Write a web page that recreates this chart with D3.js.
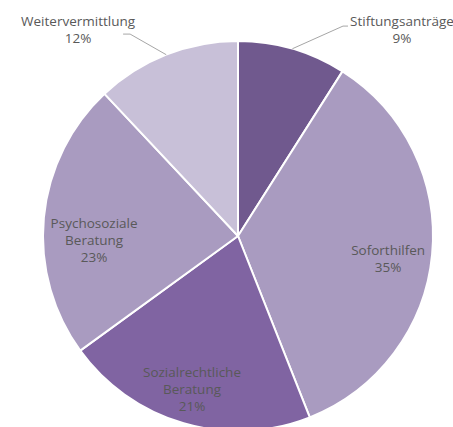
<!DOCTYPE html>
<html>
<head>
<meta charset="utf-8">
<script src="https://cdn.jsdelivr.net/npm/d3@7"></script>
<style>
  body { margin: 0; background: #fff; }
  text { font-family: "Open Sans", sans-serif; font-size: 13.5px; fill: #595959; }
</style>
</head>
<body>
<script>
// data
var categories = ["Stiftungsanträge", "Soforthilfen", "Sozialrechtliche Beratung", "Psychosoziale Beratung", "Weitervermittlung"];
var values = [9, 35, 21, 23, 12];
var colors = ["#70598e", "#a99bc0", "#8064a2", "#a99bc0", "#c8c0d8"];

var w = 453, h = 427;
var cx = 238, cy = 236, radius = 195;

/* ===== label layout (Excel "best fit" look), in units of the radius ===== */
var labelLines = [["Stiftungsanträge"], ["Soforthilfen"], ["Sozialrechtliche", "Beratung"], ["Psychosoziale", "Beratung"], ["Weitervermittlung"]];
var labelPos = [[0.841, -1.056], [0.77, 0.115], [-0.236, 0.785], [-0.738, 0.02], [-0.82, -1.056]];
// leader lines for the outside labels: elbow points relative to the label centre (px)
var leaders = { 0: [[-59, -4], [-54, -4]], 4: [[52, 4], [45, 4]] };
var lh = 17;

var svg = d3.select("body").append("svg")
    .attr("width", w)
    .attr("height", h);

var g = svg.append("g").attr("transform", "translate(" + cx + "," + cy + ")");

var pie = d3.pie().sort(null).value(function (d) { return d; });
var arc = d3.arc().innerRadius(0).outerRadius(radius);
var arcs = pie(values);
var pct = d3.format(".0%");
var total = d3.sum(values);

g.selectAll("path.slice")
    .data(arcs)
    .enter().append("path")
    .attr("class", "slice")
    .attr("d", arc)
    .attr("fill", function (d, i) { return colors[i]; })
    .attr("stroke", "#fff")
    .attr("stroke-width", 2)
    .attr("stroke-linejoin", "round");

arcs.forEach(function (d, i) {
    var mid = (d.startAngle + d.endAngle) / 2;
    var x = labelPos[i][0] * radius, y = labelPos[i][1] * radius;
    if (leaders[i]) {
        var ex = Math.sin(mid) * radius, ey = -Math.cos(mid) * radius;
        var pts = [[ex, ey]].concat(leaders[i].map(function (p) { return [x + p[0], y + p[1]]; }));
        g.append("polyline")
            .attr("points", pts.map(function (p) { return p.join(","); }).join(" "))
            .attr("fill", "none")
            .attr("stroke", "#a6a6a6")
            .attr("stroke-width", 1);
    }
    var lines = labelLines[i].concat([pct(values[i] / total)]);
    var t = g.append("text")
        .attr("text-anchor", "middle")
        .attr("x", x)
        .attr("y", y - (lines.length - 1) * lh / 2);
    lines.forEach(function (s, k) {
        t.append("tspan").attr("x", x).attr("dy", k === 0 ? "0.35em" : lh).text(s);
    });
});
</script>
</body>
</html>
